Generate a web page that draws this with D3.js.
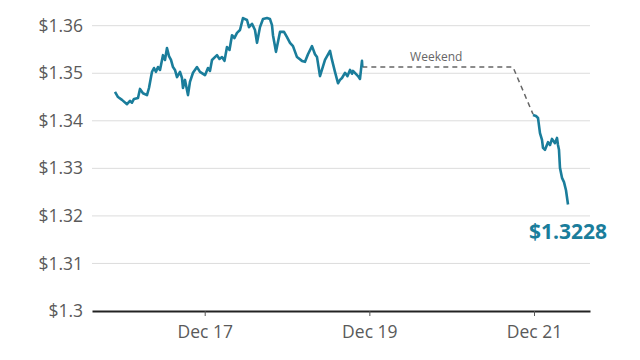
<!DOCTYPE html>
<html>
<head>
<meta charset="utf-8">
<script src="https://cdn.jsdelivr.net/npm/d3@7"></script>
<style>
  html, body { margin: 0; padding: 0; background: #fff; }
  svg { display: block; font-family: "Open Sans", sans-serif; }
</style>
</head>
<body>
<svg id="chart" width="640" height="360"></svg>
<script>
// Hours since 15 Dec 2020 00:00 UTC, and GBP/USD rate
const weekHours = [21.85,22.73,23.89,25.35,26.22,26.80,27.39,28.56,29.14,30.01,31.18,31.76,32.64,33.22,33.80,34.39,34.97,35.84,36.43,37.01,37.59,38.18,38.76,39.34,39.93,40.80,41.38,41.67,42.26,43.13,43.71,44.59,45.76,46.63,48.09,48.96,49.55,50.13,51.59,52.32,53.04,53.77,54.50,55.23,55.96,56.69,57.42,58.29,59.16,60.33,60.91,61.79,62.66,63.25,64.12,65.00,66.16,67.04,67.62,67.91,68.78,69.95,71.12,71.99,72.87,73.74,74.91,76.36,77.24,78.11,79.28,80.15,80.74,81.61,83.07,84.53,85.11,85.98,86.86,87.44,88.02,88.90,89.63,90.36,90.94,91.23,92.69,93.27,93.85,93.95];
const weekRates = [1.3461,1.3450,1.3444,1.3435,1.3442,1.3438,1.3446,1.3448,1.3467,1.3458,1.3454,1.3469,1.3503,1.3511,1.3503,1.3513,1.3507,1.3538,1.3528,1.3553,1.3536,1.3528,1.3513,1.3507,1.3492,1.3503,1.3490,1.3469,1.3486,1.3454,1.3482,1.3501,1.3513,1.3503,1.3496,1.3511,1.3505,1.3528,1.3538,1.3530,1.3534,1.3526,1.3555,1.3549,1.3580,1.3574,1.3585,1.3591,1.3616,1.3612,1.3597,1.3604,1.3591,1.3564,1.3597,1.3614,1.3616,1.3614,1.3601,1.3580,1.3545,1.3587,1.3587,1.3576,1.3564,1.3557,1.3534,1.3526,1.3524,1.3540,1.3557,1.3540,1.3534,1.3494,1.3528,1.3547,1.3528,1.3503,1.3479,1.3486,1.3490,1.3501,1.3494,1.3507,1.3499,1.3505,1.3494,1.3488,1.3526,1.3513];
const weekendHours = [93.95, 137.87, 143.70];
const weekendRates = [1.3513, 1.3513, 1.3414];
const mondayHours = [143.70,144.58,145.16,145.74,146.33,146.62,147.20,148.08,148.66,149.24,150.11,150.70,150.99,151.28,151.57,152.16,152.74,153.32,153.91];
const mondayRates = [1.3412,1.3410,1.3406,1.3374,1.3360,1.3343,1.3339,1.3355,1.3349,1.3362,1.3353,1.3364,1.3349,1.3339,1.3301,1.3280,1.3271,1.3254,1.3224];
const yTicks = [1.30, 1.31, 1.32, 1.33, 1.34, 1.35, 1.36];
const xTickLabels = ["Dec 17", "Dec 19", "Dec 21"];
const xTickHours = [48, 96, 144];
const domainHours = [15.15, 160.32];
const lastLabel = "$1.3228";
const weekendLabel = "Weekend";

const start = Date.UTC(2020, 11, 15);
const toDate = h => new Date(start + h * 3600000);

const svg = d3.select("#chart");
const margin = {left: 92, right: 50, top: 25.7, bottom: 49};
const W = 640, H = 360;

const x = d3.scaleUtc()
  .domain(domainHours.map(toDate))
  .range([margin.left, W - margin.right]);
const y = d3.scaleLinear()
  .domain([1.30, 1.36])
  .range([H - margin.bottom, margin.top]);

const teal = "#1a7d9b";

// gridlines
svg.append("g")
  .selectAll("line")
  .data(yTicks.filter(d => d > 1.30))
  .join("line")
  .attr("x1", margin.left).attr("x2", W - margin.right)
  .attr("y1", d => y(d)).attr("y2", d => y(d))
  .attr("stroke", "#dcdcdc").attr("stroke-width", 1);

// y labels
svg.append("g")
  .selectAll("text")
  .data(yTicks)
  .join("text")
  .attr("x", 83)
  .attr("y", d => y(d))
  .attr("dy", "0.35em")
  .attr("text-anchor", "end")
  .attr("font-size", 17.5)
  .attr("fill", "#5a5a5a")
  .text(d => "$" + (d === 1.30 ? "1.3" : d.toFixed(2)));

// x axis
const xAxis = d3.axisBottom(x)
  .tickValues(xTickHours.map(toDate))
  .tickFormat((d, i) => xTickLabels[i])
  .tickSize(5)
  .tickPadding(10)
  .tickSizeOuter(0);
const gx = svg.append("g")
  .attr("transform", `translate(0,${y(1.30)})`)
  .call(xAxis);
gx.select(".domain").attr("stroke", "#222").attr("stroke-width", 2);
gx.selectAll(".tick line").attr("stroke", "#555");
gx.selectAll(".tick text")
  .attr("font-family", "Open Sans, sans-serif")
  .attr("font-size", 17.5)
  .attr("fill", "#5a5a5a");

const line = d3.line()
  .x(d => x(toDate(d[0])))
  .y(d => y(d[1]));

// weekend dashed
svg.append("path")
  .datum(weekendHours.map((h, i) => [h, weekendRates[i]]))
  .attr("d", line)
  .attr("fill", "none")
  .attr("stroke", "#666")
  .attr("stroke-width", 1.5)
  .attr("stroke-dasharray", "5,4");

svg.append("text")
  .attr("x", x(toDate(115.5)))
  .attr("y", y(1.3513) - 6)
  .attr("text-anchor", "middle")
  .attr("font-size", 12)
  .attr("fill", "#666")
  .text(weekendLabel);

// price lines
[[weekHours, weekRates], [mondayHours, mondayRates]].forEach(([hs, rs]) => {
  svg.append("path")
    .datum(hs.map((h, i) => [h, rs[i]]))
    .attr("d", line)
    .attr("fill", "none")
    .attr("stroke", teal)
    .attr("stroke-width", 2.6)
    .attr("stroke-linejoin", "round");
});

// last value label
svg.append("text")
  .attr("x", x(toDate(mondayHours[mondayHours.length - 1])))
  .attr("y", 239)
  .attr("text-anchor", "middle")
  .attr("font-size", 21)
  .attr("font-weight", 700)
  .attr("fill", teal)
  .text(lastLabel);
</script>
</body>
</html>
